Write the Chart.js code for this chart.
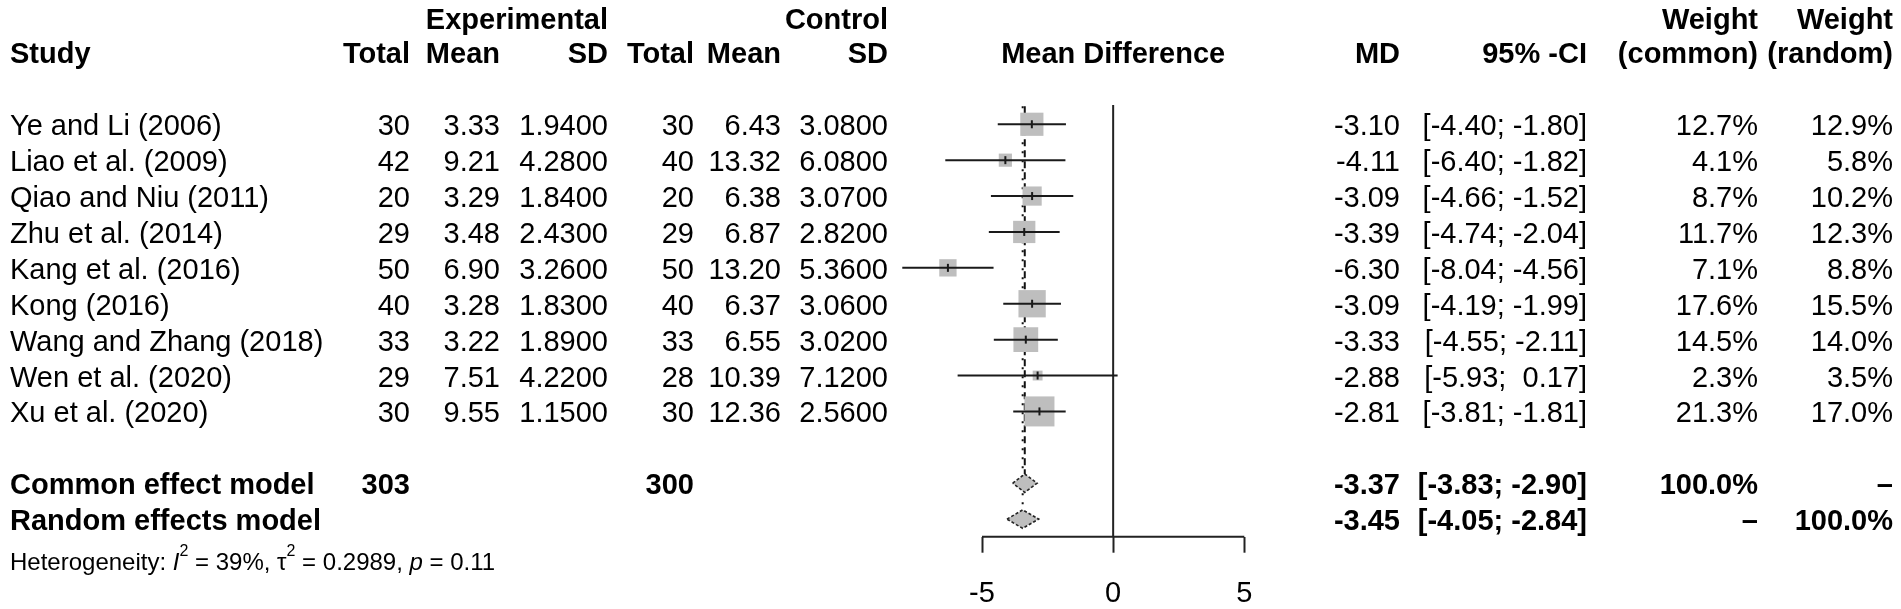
<!DOCTYPE html>
<html><head><meta charset="utf-8">
<script src="https://cdn.jsdelivr.net/npm/chart.js@4.4.1/dist/chart.umd.min.js"></script>
<style>html,body{margin:0;padding:0;background:#fff;overflow:hidden}canvas{display:block}</style>
</head><body>
<canvas id="c" width="1901" height="609"></canvas>
<script>
// ---------- DATA ----------
const studies = ['Ye and Li (2006)','Liao et al. (2009)','Qiao and Niu (2011)','Zhu et al. (2014)','Kang et al. (2016)','Kong (2016)','Wang and Zhang (2018)','Wen et al. (2020)','Xu et al. (2020)'];
const expTotal = [30,42,20,29,50,40,33,29,30];
const expMean = [3.33,9.21,3.29,3.48,6.90,3.28,3.22,7.51,9.55];
const expSD = [1.94,4.28,1.84,2.43,3.26,1.83,1.89,4.22,1.15];
const ctrlTotal = [30,40,20,29,50,40,33,28,30];
const ctrlMean = [6.43,13.32,6.38,6.87,13.20,6.37,6.55,10.39,12.36];
const ctrlSD = [3.08,6.08,3.07,2.82,5.36,3.06,3.02,7.12,2.56];
const md = [-3.10,-4.11,-3.09,-3.39,-6.30,-3.09,-3.33,-2.88,-2.81];
const ciLow = [-4.40,-6.40,-4.66,-4.74,-8.04,-4.19,-4.55,-5.93,-3.81];
const ciHigh = [-1.80,-1.82,-1.52,-2.04,-4.56,-1.99,-2.11,0.17,-1.81];
const wCommon = [12.7,4.1,8.7,11.7,7.1,17.6,14.5,2.3,21.3];
const wRandom = [12.9,5.8,10.2,12.3,8.8,15.5,14.0,3.5,17.0];
const summaryLabels = ['Common effect model','Random effects model'];
const summaryMD = [-3.37,-3.45];
const summaryLow = [-3.83,-4.05];
const summaryHigh = [-2.90,-2.84];
const summaryExpTotal = [303,null];
const summaryCtrlTotal = [300,null];
const summaryWCommon = [100.0,null];
const summaryWRandom = [null,100.0];
const hetI2 = 39, hetTau2 = 0.2989, hetP = 0.11;
const xTicks = [-5,0,5];

// ---------- LAYOUT / STYLE ----------
const FONT = '"Liberation Sans", Arial, Helvetica, sans-serif';
const FS = 29, HFS = 24, SUPFS = 16;
const COL = {study:10, expTotal:410, expMean:500, expSD:608, ctrlTotal:694, ctrlMean:781, ctrlSD:888, md:1400, ci:1587, wCommon:1758, wRandom:1893};
const TEXT_DY = 3;
const BOX_K = 4.6;      // square radius per sqrt(weight)
const DH = 0.256;       // diamond half-height in row units
const GREY = '#bebebe', INK = '#1a1a1a';
const X_MIN = -9, X_MAX = 5, Y_MIN = -2.462, Y_MAX = 12.49;
const studyRow = i => i + 1, sumRow = k => 11 + k, hetRow = 13.15;

const ciText = (lo, hi) => '[' + lo.toFixed(2) + ';' + (hi >= 0 ? '  ' : ' ') + hi.toFixed(2) + ']';

const datasets = [];
datasets.push({data: md.map((m,i)=>({x:m,y:studyRow(i)})), showLine:false, pointStyle:'line', pointRotation:90, pointRadius:4, pointBorderWidth:2, pointBorderColor:INK, pointBackgroundColor:INK, clip:false, order:0});
md.forEach((m,i)=>datasets.push({data:[{x:ciLow[i],y:studyRow(i)},{x:ciHigh[i],y:studyRow(i)}], showLine:true, pointRadius:0, borderColor:INK, borderWidth:2, clip:false, order:1}));
datasets.push({data: md.map((m,i)=>({x:m,y:studyRow(i)})), showLine:false, pointStyle:'rect', pointRadius:c=>BOX_K*Math.sqrt(wCommon[c.dataIndex]), pointBorderWidth:0, pointBackgroundColor:GREY, clip:false, order:2});
summaryMD.forEach((m,k)=>{const r=sumRow(k);datasets.push({data:[{x:summaryLow[k],y:r},{x:m,y:r-DH},{x:summaryHigh[k],y:r},{x:m,y:r+DH},{x:summaryLow[k],y:r}], showLine:true, fill:'shape', backgroundColor:GREY, borderColor:'#222', borderWidth:1.6, borderDash:[3,2], pointRadius:0, tension:0, clip:false, order:3});});
summaryMD.forEach((m,k)=>datasets.push({data:[{x:m,y:0.5},{x:m,y:sumRow(k)-DH}], showLine:true, pointRadius:0, borderColor:'#111', borderWidth:2, borderDash:k?[2,7]:[7,4], clip:false, order:4}));
datasets.push({data:[{x:0,y:0.46},{x:0,y:Y_MAX}], showLine:true, pointRadius:0, borderColor:'#222', borderWidth:2, clip:false, order:5});
// axis baseline from first to last tick
datasets.push({data:[{x:xTicks[0],y:Y_MAX},{x:xTicks[xTicks.length-1],y:Y_MAX}], showLine:true, pointRadius:0, borderColor:'#222', borderWidth:2, clip:false, order:5});

const textPlugin = {
  id:'forestText',
  afterDraw(chart){
    const ctx = chart.ctx, ys = chart.scales.y, xs = chart.scales.x;
    const Y = r => ys.getPixelForValue(r) + TEXT_DY;
    ctx.save();
    ctx.fillStyle = '#000';
    ctx.textBaseline = 'middle';
    const t = (s, x, r, align, bold, size) => {
      if (s === null || s === undefined) return;
      ctx.font = (bold ? 'bold ' : '') + (size || FS) + 'px ' + FONT;
      ctx.textAlign = align;
      ctx.fillText(String(s), x, Y(r));
    };
    const h1 = -1.95, h2 = -1;
    t('Experimental', COL.expSD, h1, 'right', true);
    t('Control', COL.ctrlSD, h1, 'right', true);
    t('Weight', COL.wCommon, h1, 'right', true);
    t('Weight', COL.wRandom, h1, 'right', true);
    t('Study', COL.study, h2, 'left', true);
    t('Total', COL.expTotal, h2, 'right', true);
    t('Mean', COL.expMean, h2, 'right', true);
    t('SD', COL.expSD, h2, 'right', true);
    t('Total', COL.ctrlTotal, h2, 'right', true);
    t('Mean', COL.ctrlMean, h2, 'right', true);
    t('SD', COL.ctrlSD, h2, 'right', true);
    t('Mean Difference', xs.getPixelForValue(0), h2, 'center', true);
    t('MD', COL.md, h2, 'right', true);
    t('95% -CI', COL.ci, h2, 'right', true);
    t('(common)', COL.wCommon, h2, 'right', true);
    t('(random)', COL.wRandom, h2, 'right', true);
    studies.forEach((s,i)=>{
      const r = studyRow(i);
      t(s, COL.study, r, 'left');
      t(expTotal[i], COL.expTotal, r, 'right');
      t(expMean[i].toFixed(2), COL.expMean, r, 'right');
      t(expSD[i].toFixed(4), COL.expSD, r, 'right');
      t(ctrlTotal[i], COL.ctrlTotal, r, 'right');
      t(ctrlMean[i].toFixed(2), COL.ctrlMean, r, 'right');
      t(ctrlSD[i].toFixed(4), COL.ctrlSD, r, 'right');
      t(md[i].toFixed(2), COL.md, r, 'right');
      t(ciText(ciLow[i], ciHigh[i]), COL.ci, r, 'right');
      t(wCommon[i].toFixed(1) + '%', COL.wCommon, r, 'right');
      t(wRandom[i].toFixed(1) + '%', COL.wRandom, r, 'right');
    });
    summaryLabels.forEach((s,k)=>{
      const r = sumRow(k);
      t(s, COL.study, r, 'left', true);
      t(summaryExpTotal[k], COL.expTotal, r, 'right', true);
      t(summaryCtrlTotal[k], COL.ctrlTotal, r, 'right', true);
      t(summaryMD[k].toFixed(2), COL.md, r, 'right', true);
      t(ciText(summaryLow[k], summaryHigh[k]), COL.ci, r, 'right', true);
      t(summaryWCommon[k] === null ? '\u2013' : summaryWCommon[k].toFixed(1) + '%', COL.wCommon, r, 'right', true);
      t(summaryWRandom[k] === null ? '\u2013' : summaryWRandom[k].toFixed(1) + '%', COL.wRandom, r, 'right', true);
    });
    const segs = [
      {s:'Heterogeneity: '}, {s:'I', it:true}, {s:'2', sup:true}, {s:' = ' + hetI2 + '%, '},
      {s:'\u03C4'}, {s:'2', sup:true}, {s:' = ' + hetTau2.toFixed(4) + ', '}, {s:'p', it:true}, {s:' = ' + hetP.toFixed(2)}
    ];
    let x = COL.study; const yb = Y(hetRow);
    ctx.textAlign = 'left';
    segs.forEach(g=>{
      const size = g.sup ? SUPFS : HFS;
      ctx.font = (g.it ? 'italic ' : '') + size + 'px ' + FONT;
      ctx.fillText(g.s, x, g.sup ? yb - 12 : yb);
      x += ctx.measureText(g.s).width;
    });
    ctx.restore();
  }
};

new Chart(document.getElementById('c'), {
  type:'scatter',
  data:{datasets},
  options:{
    responsive:false, devicePixelRatio:1, animation:false, events:[],
    layout:{autoPadding:false, padding:{left:877.1, right:656.7, top:0, bottom:0}},
    plugins:{legend:{display:false}, tooltip:{enabled:false}},
    scales:{
      x:{type:'linear', min:X_MIN, max:X_MAX, display:true, position:'bottom',
        afterBuildTicks: s => { s.ticks = xTicks.map(v=>({value:v})); },
        afterFit: s => { s.height = 72.3; },
        grid:{display:true, drawOnChartArea:false, drawTicks:true, tickLength:16, tickWidth:2, tickColor:'#222'},
        border:{display:false},
        ticks:{padding:23.5, maxRotation:0, color:'#000', font:{family:FONT, size:FS}, callback:v=>String(v)}
      },
      y:{type:'linear', min:Y_MIN, max:Y_MAX, reverse:true, display:false}
    }
  },
  plugins:[textPlugin]
});
</script>
</body></html>
